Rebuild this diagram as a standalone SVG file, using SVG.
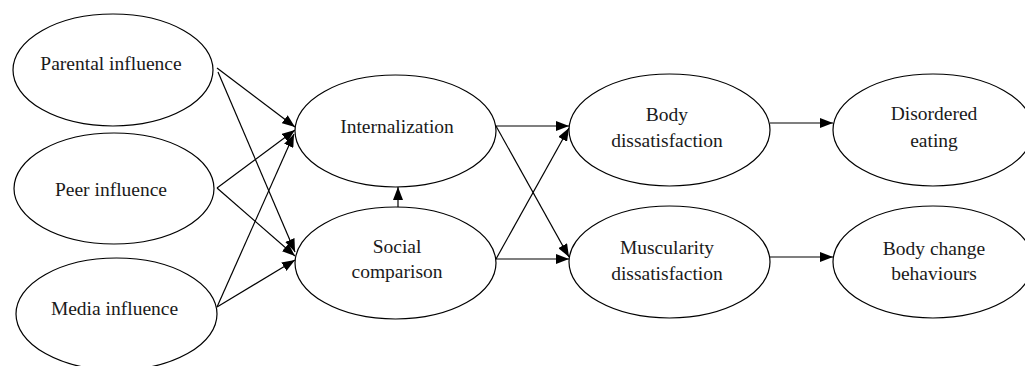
<svg xmlns="http://www.w3.org/2000/svg" width="1025" height="366" viewBox="0 0 1025 366">
<style>
.node ellipse{fill:#fff;stroke:#000;stroke-width:1.2}
.node text{font-family:"Liberation Serif","Times New Roman",serif;font-size:19.5px;fill:#1a1a1a;text-anchor:middle}
#edges line{stroke:#000;stroke-width:1.2;fill:none;marker-end:url(#arr)}
</style>
<defs>
<marker id="arr" markerUnits="userSpaceOnUse" markerWidth="14" markerHeight="10" refX="13" refY="5" orient="auto">
<path d="M0,0 L13,5 L0,10 Z" fill="#000"/>
</marker>
</defs>
<rect width="1025" height="366" fill="#fff"/>
<g id="edges">
<line x1="217" y1="68" x2="295" y2="127"/>
<line x1="218" y1="72" x2="295" y2="252"/>
<line x1="217" y1="188" x2="295" y2="130"/>
<line x1="217" y1="188" x2="295" y2="256"/>
<line x1="217" y1="307" x2="294" y2="134"/>
<line x1="217" y1="307" x2="295" y2="260"/>
<line x1="398" y1="207" x2="398" y2="187"/>
<line x1="496" y1="126" x2="569" y2="126"/>
<line x1="496" y1="126" x2="569" y2="257"/>
<line x1="496" y1="259" x2="569" y2="128"/>
<line x1="496" y1="259" x2="569" y2="259"/>
<line x1="770" y1="123" x2="833" y2="123"/>
<line x1="770" y1="257" x2="833" y2="257"/>
</g>
<g id="parental" class="node"><ellipse cx="113" cy="70" rx="100" ry="56"/><text x="111" y="70">Parental influence</text></g>
<g id="peer" class="node"><ellipse cx="114" cy="188.5" rx="100" ry="55.5"/><text x="111" y="196">Peer influence</text></g>
<g id="media" class="node"><ellipse cx="116.5" cy="314" rx="100.5" ry="56"/><text x="114.5" y="315">Media influence</text></g>
<g id="internalization" class="node"><ellipse cx="395.5" cy="131" rx="100.5" ry="56"/><text x="397" y="133">Internalization</text></g>
<g id="social" class="node"><ellipse cx="395.5" cy="263" rx="100.5" ry="56"/><text x="397" y="253">Social</text><text x="397" y="278">comparison</text></g>
<g id="bodydis" class="node"><ellipse cx="669.5" cy="130" rx="100.5" ry="56"/><text x="667" y="121">Body</text><text x="667" y="147">dissatisfaction</text></g>
<g id="muscdis" class="node"><ellipse cx="669.5" cy="262" rx="100.5" ry="56"/><text x="667" y="254">Muscularity</text><text x="667" y="280">dissatisfaction</text></g>
<g id="disordered" class="node"><ellipse cx="933" cy="130" rx="100" ry="56"/><text x="934" y="120">Disordered</text><text x="934" y="147">eating</text></g>
<g id="bodychange" class="node"><ellipse cx="933" cy="262" rx="100" ry="56"/><text x="934" y="255">Body change</text><text x="934" y="280">behaviours</text></g>
</svg>
